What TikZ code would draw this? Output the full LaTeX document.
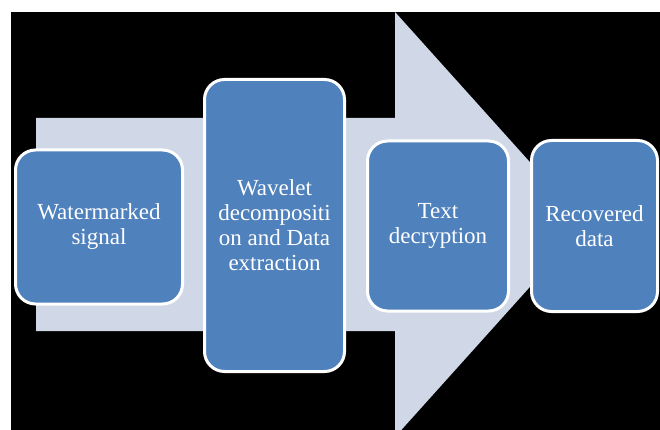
\documentclass[tikz,border=0pt]{standalone}
\usepackage{fontspec}
\setmainfont{Liberation Serif}
\definecolor{stepblue}{HTML}{4F81BD}
\definecolor{arrowtint}{HTML}{D0D8E8}
\begin{document}
\begin{tikzpicture}[x=1pt,y=-1pt,
  stepbox/.style={draw=white, line width=3pt, fill=stepblue, rounded corners=20pt,
    text=white, align=center, inner sep=2pt,
    font=\fontsize{23}{25}\selectfont},
  bigarrow/.style={fill=arrowtint, draw=none}]
  % page and backdrop
  \useasboundingbox (0,0) rectangle (660,430);
  \clip (0,0) rectangle (660,430);
  \fill[white] (0,0) rectangle (660,430);
  \fill[black] (11,12) rectangle (660,430);
  % process arrow behind the steps
  \fill[bigarrow] (36,118) -- (395,118) -- (395,12) -- (586,224.5)
    -- (395,437) -- (395,331) -- (36,331) -- cycle;
  % steps
  \node[stepbox, minimum width=167pt, minimum height=154pt] (s1) at (99,227)
    {Watermarked\\signal};
  \node[stepbox, minimum width=140pt, minimum height=292pt] (s2) at (274.5,225.5)
    {Wavelet\\decompositi\\on and Data\\extraction};
  \node[stepbox, minimum width=141pt, minimum height=170pt] (s3) at (438,226)
    {Text\\decryption};
  \node[stepbox, minimum width=126pt, minimum height=171pt] (s4) at (594.5,226)
    {Recovered\\data};
\end{tikzpicture}
\end{document}
